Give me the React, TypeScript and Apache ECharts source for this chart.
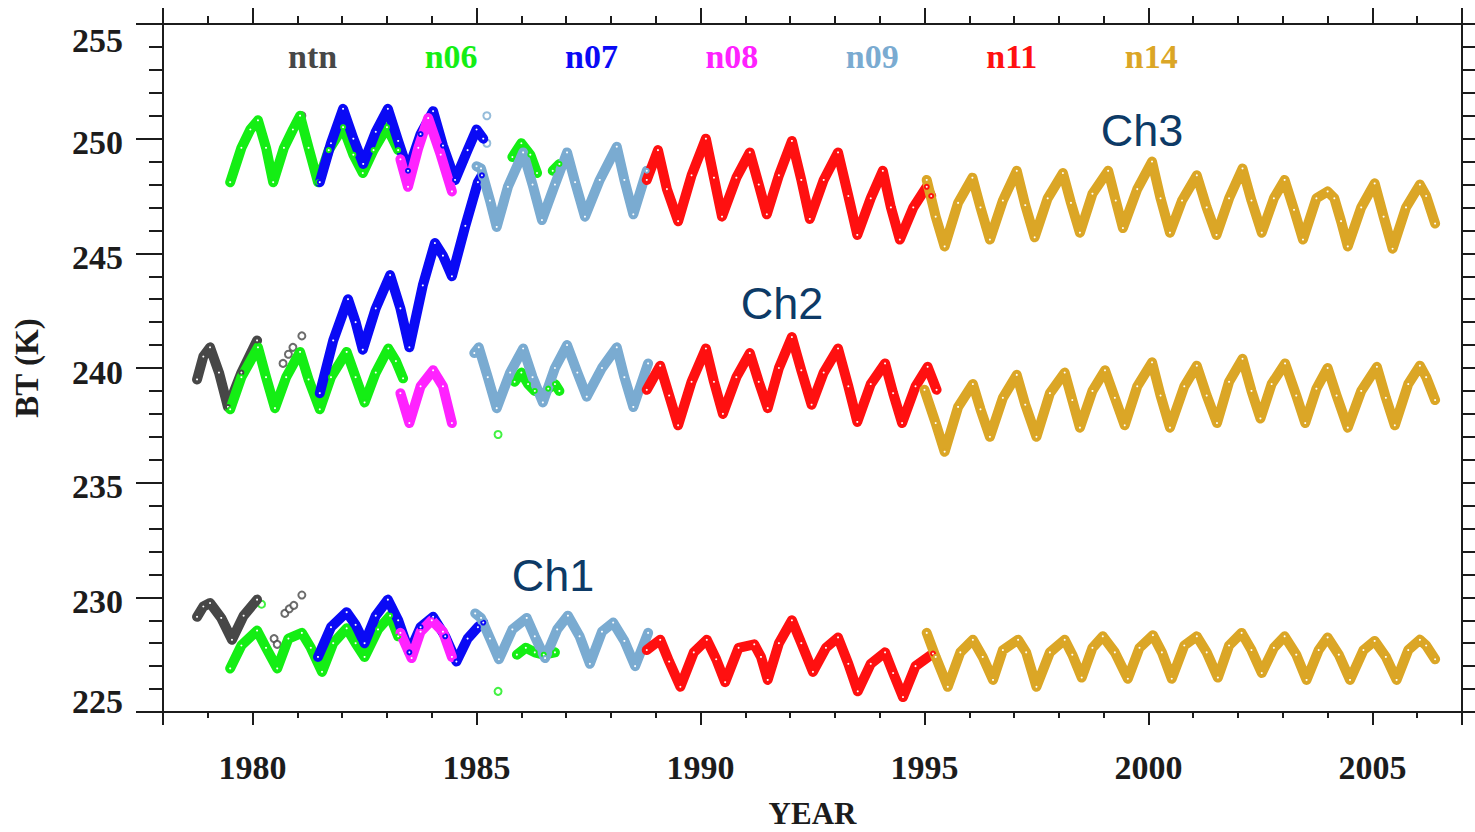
import React, { useEffect, useRef } from 'react';
import * as echarts from 'echarts';

type P = [number, number];

// ---------- legend / satellites ----------
const SATS = ['ntn', 'n06', 'n07', 'n08', 'n09', 'n11', 'n14'];
const SAT_COLORS: Record<string, string> = {
  ntn: '#474747',
  n06: '#14ee14',
  n07: '#0a0af5',
  n08: '#ff22ff',
  n09: '#7aabd1',
  n11: '#ff1010',
  n14: '#dba626',
};

// ---------- axis ticks ----------
const X_MIN = 1978;
const X_MAX = 2007;
const Y_MIN = 225;
const Y_MAX = 255;
const Y_STEP = 5;

// ---------- channel labels ----------
const CH_LABELS = ['Ch1', 'Ch2', 'Ch3'];

// ================= Ch3 =================
const NTN_CH3_DOTS: P[] = [[1981.1, 251.0]];
const N06_CH3_A: P[] = [[1979.5, 248.1], [1979.75, 249.6], [1979.95, 250.4], [1980.12, 250.8], [1980.3, 249.6], [1980.46, 248.1], [1980.7, 249.6], [1980.9, 250.4], [1981.06, 251.0], [1981.25, 249.6], [1981.46, 248.1], [1981.7, 249.5], [1982.02, 250.5], [1982.25, 249.3], [1982.46, 248.5], [1982.7, 249.5], [1983.0, 250.5], [1983.25, 249.5]];
const N06_CH3_B: P[] = [[1985.8, 249.2], [1986.0, 249.8], [1986.2, 249.3], [1986.35, 248.5]];
const N06_CH3_C: P[] = [[1986.7, 248.6], [1986.85, 248.9]];
const N07_CH3: P[] = [[1981.5, 248.1], [1981.75, 249.8], [1982.02, 251.3], [1982.25, 250.0], [1982.47, 248.9], [1982.75, 250.3], [1983.02, 251.3], [1983.25, 249.9], [1983.47, 248.6], [1983.75, 250.2], [1984.03, 251.2], [1984.25, 249.7], [1984.52, 248.2], [1984.8, 249.5], [1985.0, 250.4], [1985.15, 250.0]];
const N08_CH3: P[] = [[1983.3, 249.1], [1983.47, 247.9], [1983.7, 249.6], [1983.92, 250.9], [1984.2, 249.3], [1984.45, 247.7]];
const N09_CH3: P[] = [[1985.0, 248.8], [1985.1, 248.7], [1985.3, 247.3], [1985.45, 246.15], [1985.7, 247.9], [1986.04, 249.4], [1986.25, 248.0], [1986.46, 246.45], [1986.75, 248.0], [1987.02, 249.4], [1987.2, 248.1], [1987.42, 246.6], [1987.75, 248.2], [1988.13, 249.65], [1988.3, 248.2], [1988.5, 246.7], [1988.8, 248.6]];
const N09_CH3_DOTS: P[] = [[1985.23, 251.0], [1985.23, 249.8]];
const N11_CH3: P[] = [[1988.8, 248.2], [1989.05, 249.5], [1989.25, 247.8], [1989.5, 246.4], [1989.8, 248.4], [1990.12, 250.0], [1990.3, 248.3], [1990.48, 246.6], [1990.8, 248.3], [1991.1, 249.4], [1991.3, 248.0], [1991.48, 246.7], [1991.75, 248.4], [1992.04, 249.9], [1992.25, 248.2], [1992.44, 246.5], [1992.75, 248.2], [1993.07, 249.4], [1993.3, 247.5], [1993.5, 245.8], [1993.8, 247.4], [1994.07, 248.6], [1994.25, 247.0], [1994.45, 245.6], [1994.75, 247.0], [1995.05, 247.9], [1995.15, 247.5]];
const N14_CH3: P[] = [[1995.05, 248.2], [1995.25, 246.6], [1995.45, 245.3], [1995.75, 247.2], [1996.07, 248.3], [1996.25, 247.0], [1996.46, 245.6], [1996.75, 247.3], [1997.06, 248.6], [1997.25, 247.1], [1997.46, 245.7], [1997.75, 247.4], [1998.09, 248.5], [1998.27, 247.2], [1998.47, 245.9], [1998.75, 247.6], [1999.1, 248.6], [1999.27, 247.3], [1999.43, 246.1], [1999.75, 247.8], [2000.08, 249.0], [2000.27, 247.4], [2000.48, 245.9], [2000.75, 247.3], [2001.08, 248.4], [2001.3, 247.0], [2001.52, 245.8], [2001.8, 247.4], [2002.1, 248.7], [2002.3, 247.3], [2002.53, 245.9], [2002.8, 247.4], [2003.04, 248.2], [2003.25, 246.9], [2003.45, 245.6], [2003.75, 247.4], [2004.0, 247.7], [2004.15, 247.4], [2004.3, 246.4], [2004.45, 245.3], [2004.75, 247.0], [2005.05, 248.05], [2005.25, 246.6], [2005.45, 245.2], [2005.75, 247.0], [2006.06, 248.0], [2006.2, 247.5], [2006.4, 246.3]];

// ================= Ch2 =================
const NTN_CH2: P[] = [[1978.76, 239.5], [1978.9, 240.5], [1979.05, 240.9], [1979.25, 239.8], [1979.45, 238.3], [1979.75, 239.8], [1980.1, 241.2]];
const NTN_CH2_DOTS: P[] = [[1980.68, 240.2], [1980.8, 240.6], [1980.9, 240.9], [1981.1, 241.4]];
const N06_CH2_A: P[] = [[1979.5, 238.2], [1979.75, 239.6], [1980.12, 240.9], [1980.3, 239.6], [1980.5, 238.25], [1980.75, 239.6], [1981.06, 240.7], [1981.25, 239.5], [1981.5, 238.2], [1981.75, 239.6], [1982.1, 240.7], [1982.3, 239.6], [1982.5, 238.5], [1982.75, 239.8], [1983.03, 240.85], [1983.2, 240.3], [1983.36, 239.55]];
const N06_CH2_B: P[] = [[1985.85, 239.4], [1986.0, 239.8], [1986.15, 239.3], [1986.3, 239.0]];
const N06_CH2_C: P[] = [[1986.6, 239.1], [1986.75, 239.3], [1986.85, 239.0]];
const N06_CH2_DOTS: P[] = [[1985.48, 237.1]];
const N07_CH2: P[] = [[1981.5, 238.9], [1981.8, 241.2], [1982.13, 243.0], [1982.3, 242.0], [1982.46, 240.8], [1982.75, 242.6], [1983.07, 244.05], [1983.3, 242.6], [1983.5, 240.9], [1983.8, 243.6], [1984.07, 245.45], [1984.25, 244.9], [1984.45, 244.0], [1984.75, 246.2], [1985.03, 248.1], [1985.12, 248.4]];
const N08_CH2: P[] = [[1983.3, 238.9], [1983.5, 237.6], [1983.75, 239.2], [1984.03, 239.9], [1984.25, 239.2], [1984.45, 237.6]];
const N09_CH2: P[] = [[1984.95, 240.65], [1985.05, 240.9], [1985.25, 239.6], [1985.45, 238.25], [1985.75, 239.8], [1986.04, 240.85], [1986.25, 239.6], [1986.48, 238.5], [1986.75, 240.0], [1987.02, 241.0], [1987.25, 239.8], [1987.46, 238.75], [1987.8, 240.0], [1988.13, 240.9], [1988.3, 239.6], [1988.5, 238.3], [1988.83, 240.2]];
const N11_CH2: P[] = [[1988.8, 239.05], [1989.1, 240.1], [1989.3, 238.8], [1989.5, 237.5], [1989.8, 239.4], [1990.12, 240.85], [1990.3, 239.4], [1990.5, 238.0], [1990.8, 239.6], [1991.1, 240.65], [1991.3, 239.4], [1991.5, 238.25], [1991.75, 240.0], [1992.04, 241.35], [1992.25, 239.9], [1992.48, 238.4], [1992.75, 239.8], [1993.07, 240.85], [1993.3, 239.2], [1993.5, 237.65], [1993.8, 239.3], [1994.12, 240.2], [1994.3, 238.9], [1994.5, 237.6], [1994.8, 239.2], [1995.07, 240.05], [1995.27, 239.05]];
const N14_CH2: P[] = [[1995.0, 239.05], [1995.25, 237.6], [1995.45, 236.35], [1995.75, 238.3], [1996.08, 239.3], [1996.25, 238.2], [1996.46, 237.0], [1996.75, 238.7], [1997.06, 239.7], [1997.25, 238.4], [1997.5, 237.0], [1997.8, 238.9], [1998.13, 239.8], [1998.3, 238.6], [1998.47, 237.4], [1998.75, 239.0], [1999.03, 239.9], [1999.25, 238.7], [1999.47, 237.5], [1999.75, 239.2], [2000.08, 240.25], [2000.27, 238.8], [2000.48, 237.4], [2000.8, 239.2], [2001.08, 240.1], [2001.3, 238.8], [2001.53, 237.6], [2001.8, 239.4], [2002.1, 240.4], [2002.3, 239.0], [2002.5, 237.8], [2002.75, 239.3], [2003.05, 240.2], [2003.3, 238.8], [2003.5, 237.6], [2003.75, 239.1], [2004.0, 240.0], [2004.2, 238.8], [2004.45, 237.4], [2004.75, 239.0], [2005.1, 240.05], [2005.3, 238.7], [2005.5, 237.5], [2005.8, 239.3], [2006.06, 240.1], [2006.2, 239.6], [2006.4, 238.6]];

// ================= Ch1 =================
const NTN_CH1: P[] = [[1978.76, 229.15], [1978.9, 229.6], [1979.05, 229.75], [1979.3, 229.1], [1979.54, 228.15], [1979.8, 229.2], [1980.1, 229.9]];
const NTN_CH1_DOTS: P[] = [[1980.48, 228.2], [1980.55, 227.95], [1980.72, 229.3], [1980.82, 229.5], [1980.92, 229.65], [1981.1, 230.1]];
const N06_CH1_A: P[] = [[1979.5, 226.9], [1979.75, 227.9], [1980.1, 228.55], [1980.3, 227.8], [1980.55, 226.9], [1980.8, 228.2], [1981.1, 228.45], [1981.3, 227.8], [1981.55, 226.75], [1981.8, 228.0], [1982.1, 228.65], [1982.3, 228.0], [1982.5, 227.4], [1982.8, 228.6], [1983.07, 229.2], [1983.25, 228.3]];
const N06_CH1_B: P[] = [[1985.9, 227.5], [1986.1, 227.8], [1986.3, 227.6], [1986.5, 227.5], [1986.75, 227.6]];
const N06_CH1_DOTS: P[] = [[1980.2, 229.7], [1985.48, 225.9]];
const N07_CH1: P[] = [[1981.46, 227.4], [1981.75, 228.7], [1982.1, 229.35], [1982.3, 228.8], [1982.5, 228.0], [1982.75, 229.2], [1983.02, 229.9], [1983.25, 229.0], [1983.5, 227.6], [1983.75, 228.7], [1984.03, 229.15], [1984.3, 228.3], [1984.55, 227.2], [1984.8, 228.2], [1985.03, 228.7], [1985.15, 228.9]];
const N08_CH1: P[] = [[1983.3, 228.45], [1983.55, 227.35], [1983.75, 228.5], [1984.0, 229.0], [1984.25, 228.5], [1984.45, 227.4]];
const N09_CH1: P[] = [[1984.97, 229.3], [1985.1, 229.1], [1985.3, 228.2], [1985.5, 227.3], [1985.8, 228.6], [1986.12, 229.1], [1986.3, 228.3], [1986.53, 227.35], [1986.8, 228.6], [1987.04, 229.2], [1987.3, 228.3], [1987.53, 227.1], [1987.8, 228.5], [1988.05, 228.9], [1988.3, 228.1], [1988.54, 227.0], [1988.83, 228.45]];
const N11_CH1: P[] = [[1988.8, 227.7], [1989.1, 228.15], [1989.3, 227.2], [1989.55, 226.1], [1989.85, 227.6], [1990.14, 228.15], [1990.35, 227.3], [1990.55, 226.3], [1990.85, 227.8], [1991.2, 227.95], [1991.35, 227.4], [1991.5, 226.4], [1991.75, 228.0], [1992.04, 229.0], [1992.25, 228.0], [1992.51, 226.75], [1992.8, 227.8], [1993.07, 228.25], [1993.3, 227.1], [1993.51, 225.9], [1993.8, 227.1], [1994.12, 227.6], [1994.3, 226.7], [1994.52, 225.65], [1994.8, 227.0], [1995.19, 227.55]];
const N14_CH1: P[] = [[1995.05, 228.45], [1995.25, 227.4], [1995.52, 226.1], [1995.8, 227.6], [1996.08, 228.15], [1996.3, 227.4], [1996.53, 226.4], [1996.75, 227.7], [1997.09, 228.15], [1997.27, 227.6], [1997.5, 226.1], [1997.8, 227.6], [1998.13, 228.15], [1998.3, 227.5], [1998.51, 226.5], [1998.75, 227.8], [1998.98, 228.3], [1999.25, 227.6], [1999.54, 226.45], [1999.8, 227.8], [2000.1, 228.35], [2000.3, 227.6], [2000.52, 226.45], [2000.8, 227.9], [2001.08, 228.3], [2001.3, 227.6], [2001.55, 226.5], [2001.8, 227.9], [2002.08, 228.45], [2002.3, 227.7], [2002.53, 226.7], [2002.8, 227.8], [2003.04, 228.3], [2003.3, 227.5], [2003.53, 226.4], [2003.8, 227.7], [2004.0, 228.25], [2004.25, 227.5], [2004.5, 226.4], [2004.8, 227.7], [2005.05, 228.1], [2005.3, 227.4], [2005.54, 226.4], [2005.8, 227.7], [2006.06, 228.15], [2006.2, 227.9], [2006.4, 227.3]];

// grouped per satellite, drawing order = SATS order
const SEGMENTS: Record<string, P[][]> = {
  ntn: [NTN_CH1, NTN_CH2],
  n06: [N06_CH1_A, N06_CH1_B, N06_CH2_A, N06_CH2_B, N06_CH2_C, N06_CH3_A, N06_CH3_B, N06_CH3_C],
  n07: [N07_CH1, N07_CH2, N07_CH3],
  n08: [N08_CH1, N08_CH2, N08_CH3],
  n09: [N09_CH1, N09_CH2, N09_CH3],
  n11: [N11_CH1, N11_CH2, N11_CH3],
  n14: [N14_CH1, N14_CH2, N14_CH3],
};
const DOTS: Record<string, P[]> = {
  ntn: [...NTN_CH1_DOTS, ...NTN_CH2_DOTS, ...NTN_CH3_DOTS],
  n06: [...N06_CH1_DOTS, ...N06_CH2_DOTS],
  n09: [...N09_CH3_DOTS],
};
const CH_POS: [number, number][] = [[553, 575], [782, 303], [1142, 130]];

const SERIF = '"Liberation Serif", "Times New Roman", serif';
const INK = '#1c1c1c';
const LABEL_FONT = { fontFamily: SERIF, fontWeight: 'bold' as const, fontSize: 34, color: INK };

export default function App() {
  const ref = useRef<HTMLDivElement>(null);
  useEffect(() => {
    if (!ref.current) return;
    const chart = echarts.init(ref.current, undefined, { renderer: 'svg' });
    const series: any[] = [];
    SATS.forEach((sat) => {
      const color = SAT_COLORS[sat];
      (SEGMENTS[sat] || []).forEach((seg) => {
        series.push({
          type: 'line',
          name: sat,
          data: seg,
          xAxisIndex: 0,
          yAxisIndex: 0,
          symbol: 'emptyCircle',
          symbolSize: 4,
          showSymbol: true,
          itemStyle: { color, borderWidth: 1 },
          lineStyle: { color, width: 10, cap: 'round', join: 'round' },
          silent: true,
          animation: false,
        });
      });
      if (DOTS[sat]) {
        series.push({
          type: 'scatter',
          name: sat,
          data: DOTS[sat],
          symbol: 'emptyCircle',
          symbolSize: 7,
          itemStyle: { color, borderWidth: 1.5 },
          silent: true,
        });
      }
    });

    const xCommon: any = {
      type: 'value',
      min: X_MIN,
      max: X_MAX,
      splitNumber: 6,
      minInterval: 5,
      maxInterval: 5,
      splitLine: { show: false },
      axisLine: { show: true, onZero: false, lineStyle: { color: INK, width: 2 } },
      minorSplitLine: { show: false },
    };
    const yCommon: any = {
      type: 'value',
      min: Y_MIN,
      max: Y_MAX,
      interval: Y_STEP,
      splitLine: { show: false },
      axisLine: { show: true, onZero: false, lineStyle: { color: INK, width: 2 } },
      axisTick: { show: true, length: 27, lineStyle: { color: INK, width: 2 } },
      minorTick: { show: true, splitNumber: 5, length: 14, lineStyle: { color: INK, width: 2 } },
    };

    chart.setOption({
      animation: false,
      backgroundColor: '#ffffff',
      grid: { left: 163, right: 13, top: 24, bottom: 120, containLabel: false, outerBoundsMode: 'none' },
      legend: {
        show: true,
        left: 278,
        top: 34,
        icon: 'none',
        itemWidth: 0,
        itemHeight: 0,
        itemGap: 82.5,
        selectedMode: false,
        textStyle: { fontFamily: SERIF, fontWeight: 'bold', fontSize: 34 },
        data: SATS.map((s) => ({ name: s, textStyle: { color: SAT_COLORS[s] } })),
      },
      xAxis: [
        {
          ...xCommon,
          position: 'bottom',
          name: 'YEAR',
          nameLocation: 'middle',
          nameGap: 86,
          nameTextStyle: { ...LABEL_FONT, fontSize: 31 },
          axisTick: { show: true, length: 13, lineStyle: { color: INK, width: 2 } },
          minorTick: { show: true, splitNumber: 5, length: 6, lineStyle: { color: INK, width: 2 } },
          axisLabel: {
            show: true,
            margin: 38,
            showMinLabel: false,
            showMaxLabel: false,
            ...LABEL_FONT,
            formatter: (v: number) => String(v),
          },
        },
        {
          ...xCommon,
          position: 'top',
          axisTick: { show: true, length: 16, lineStyle: { color: INK, width: 2 } },
          minorTick: { show: true, splitNumber: 5, length: 8, lineStyle: { color: INK, width: 2 } },
          axisLabel: { show: false },
        },
      ],
      yAxis: [
        {
          ...yCommon,
          position: 'left',
          name: 'BT (K)',
          nameLocation: 'middle',
          nameGap: 120,
          nameTextStyle: { ...LABEL_FONT, fontSize: 33 },
          axisLabel: {
            show: true,
            margin: 40,
            ...LABEL_FONT,
            verticalAlign: 'middle',
            formatter: (v: number) =>
              v === Y_MIN ? `{lo|${v}}` : v === Y_MAX ? `{hi|${v}}` : `{n|${v}}`,
            rich: {
              n: { ...LABEL_FONT, padding: [8, 0, 0, 0] },
              lo: { ...LABEL_FONT, padding: [0, 0, 22, 0] },
              hi: { ...LABEL_FONT, padding: [32, 0, 0, 0] },
            },
          },
        },
        {
          ...yCommon,
          position: 'right',
          axisLabel: { show: false },
        },
      ],
      graphic: CH_LABELS.map((t, i) => ({
        type: 'text',
        x: CH_POS[i][0],
        y: CH_POS[i][1],
        silent: true,
        z: 100,
        style: {
          text: t,
          fill: '#0d3a66',
          fontFamily: '"Liberation Sans", Arial, sans-serif',
          fontSize: 45,
          align: 'center',
          verticalAlign: 'middle',
          textAlign: 'center',
          textVerticalAlign: 'middle',
        },
      })),
      series,
    });
    return () => chart.dispose();
  }, []);
  return (
    <div
      ref={ref}
      style={{ position: 'fixed', left: 0, top: 0, width: 1475, height: 832, background: '#fff' }}
    />
  );
}
